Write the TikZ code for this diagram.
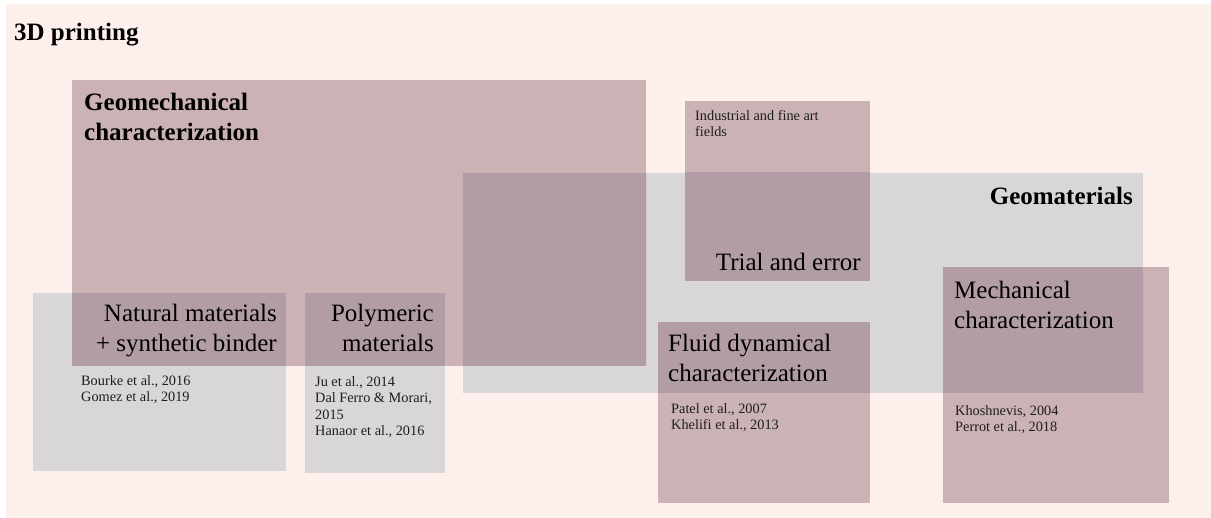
\documentclass[tikz,border=0pt]{standalone}
\usepackage{fontspec}
\setmainfont{Liberation Serif}
\definecolor{bgpink}{RGB}{253,240,236}
\definecolor{boxgray}{RGB}{217,214,216}
\definecolor{boxmauve}{RGB}{202,178,181}
\definecolor{boxboth}{RGB}{178,157,167}
\definecolor{reftext}{RGB}{30,30,30}
\tikzset{
  graybox/.style={fill=boxgray},
  mauvebox/.style={fill=boxmauve},
  bothbox/.style={fill=boxboth},
  titletext/.style={inner sep=0pt, font=\bfseries\fontsize{25}{30}\selectfont},
  boldhead/.style={inner sep=0pt, align=left, font=\bfseries\fontsize{25}{30}\selectfont},
  headtext/.style={inner sep=0pt, font=\fontsize{25}{30}\selectfont},
  reftxt/.style={inner sep=0pt, align=left, text=reftext, font=\fontsize{14.3}{16.5}\selectfont},
}
\begin{document}
\begin{tikzpicture}[x=1pt,y=-1pt]
\useasboundingbox (0,0) rectangle (1211,518);
\fill[white] (0,0) rectangle (1211,518);
\fill[bgpink] (6,4) rectangle (1211,518);
% mauve boxes
\fill[mauvebox] (72,80) rectangle (646,366);
\fill[mauvebox] (685,101) rectangle (870,281);
\fill[mauvebox] (658,322) rectangle (870,503);
\fill[mauvebox] (943,267) rectangle (1169,503);
% gray boxes
\fill[graybox] (463,173) rectangle (1143,393);
\fill[graybox] (33,293) rectangle (286,471);
\fill[graybox] (305,293) rectangle (445,473);
% overlaps of mauve and gray
\begin{scope}
  \clip (72,80) rectangle (646,366);
  \fill[bothbox] (463,173) rectangle (1143,393);
  \fill[bothbox] (33,293) rectangle (286,471);
  \fill[bothbox] (305,293) rectangle (445,473);
\end{scope}
\begin{scope}
  \clip (463,173) rectangle (1143,393);
  \fill[bothbox] (685,101) rectangle (870,281);
  \fill[bothbox] (658,322) rectangle (870,503);
  \fill[bothbox] (943,267) rectangle (1169,503);
\end{scope}
% texts
\node[titletext, anchor=base west] (title) at (14,41) {3D printing};
\node[boldhead, anchor=base west] (geomech) at (84,141) {Geomechanical\\characterization};
\node[reftxt, anchor=base west, font=\fontsize{14.3}{16}\selectfont] (industrial) at (695,137) {Industrial and fine art\\fields};
\node[boldhead, anchor=base east] (geomat) at (1133,205) {Geomaterials};
\node[headtext, anchor=base east] (trial) at (861,271) {Trial and error};
\node[headtext, align=right, anchor=base east] (natural) at (277,352) {Natural materials\\+ synthetic binder};
\node[reftxt, anchor=base west] (natrefs) at (81,402) {Bourke et al., 2016\\Gomez et al., 2019};
\node[headtext, align=right, anchor=base east] (polym) at (434,352) {Polymeric\\materials};
\node[reftxt, anchor=base west] (polrefs) at (315,436) {Ju et al., 2014\\Dal Ferro \& Morari,\\2015\\Hanaor et al., 2016};
\node[headtext, align=left, anchor=base west] (fluid) at (668,382) {Fluid dynamical\\characterization};
\node[reftxt, anchor=base west] (fluidrefs) at (671,430) {Patel et al., 2007\\Khelifi et al., 2013};
\node[headtext, align=left, anchor=base west] (mech) at (954,329) {Mechanical\\characterization};
\node[reftxt, anchor=base west] (mechrefs) at (955,432) {Khoshnevis, 2004\\Perrot et al., 2018};
\end{tikzpicture}
\end{document}
